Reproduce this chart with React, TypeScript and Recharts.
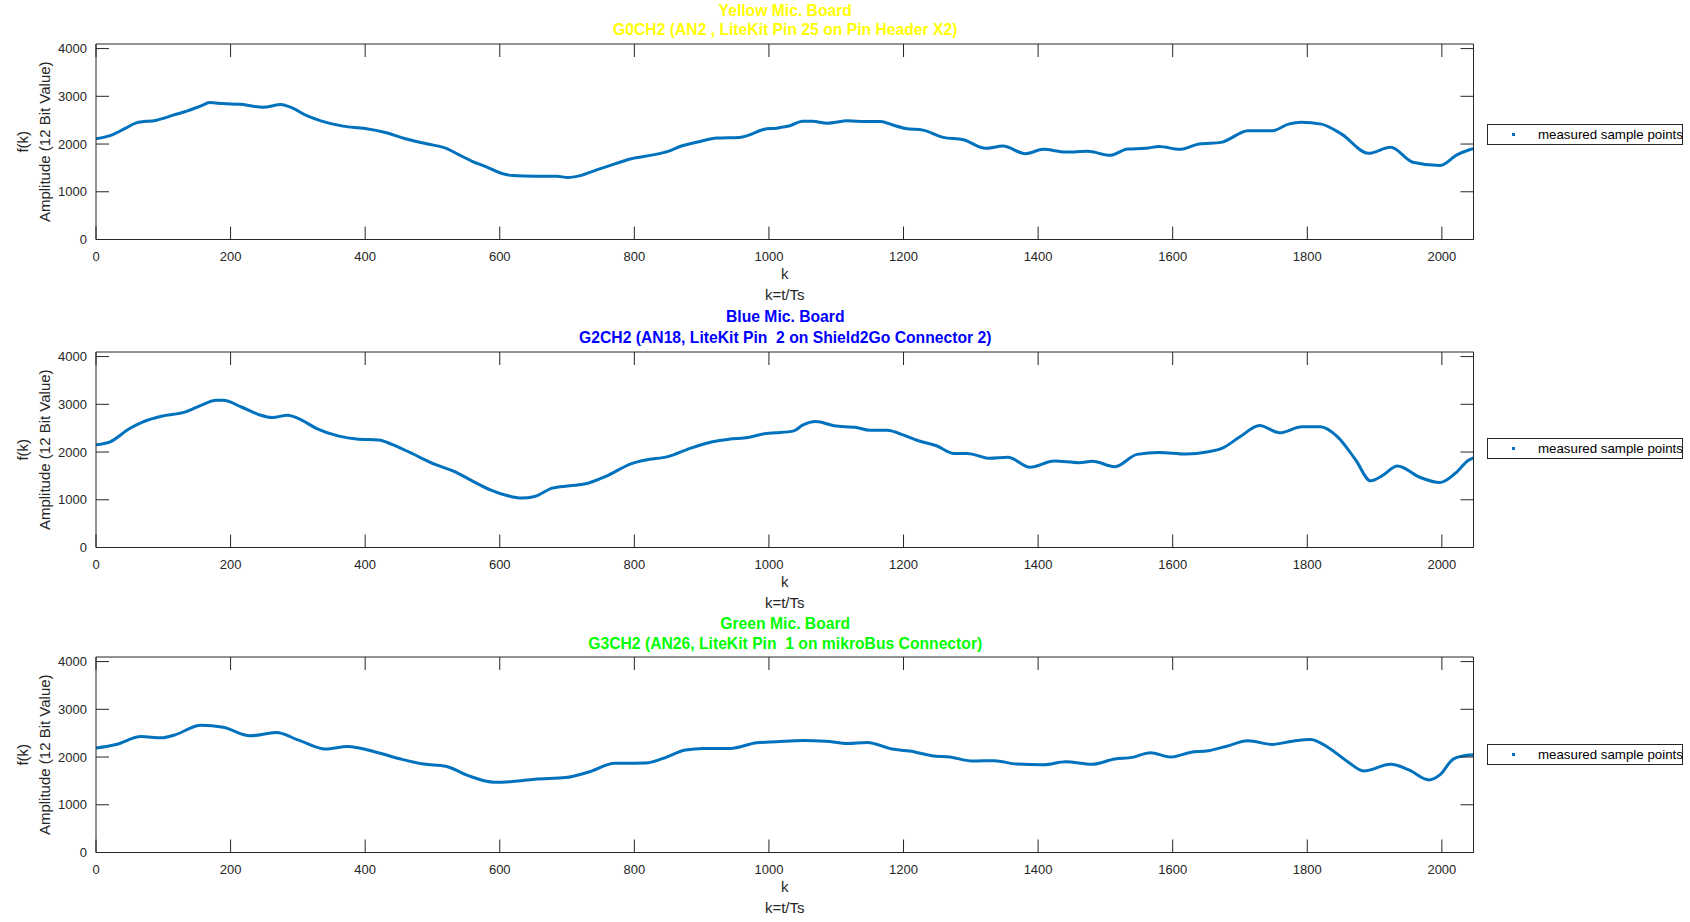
import React from "react"
import { LineChart, Line, XAxis, YAxis, Legend } from "recharts"

// sample points (k = t/Ts, 12 bit ADC value)
const yellowK = [0, 24, 44, 60, 90, 116, 136, 156, 169, 189, 215, 248, 275, 288, 315, 334, 367, 400, 430, 460, 493, 523, 539, 559, 579, 602, 619, 652, 685, 701, 718, 744, 771, 794, 830, 850, 870, 896, 923, 956, 969, 992, 1011, 1031, 1050, 1064, 1087, 1117, 1143, 1166, 1183, 1203, 1229, 1259, 1289, 1322, 1348, 1381, 1408, 1441, 1474, 1507, 1533, 1560, 1580, 1610, 1639, 1672, 1712, 1748, 1772, 1791, 1821, 1851, 1891, 1924, 1957, 1997, 2023, 2040, 2047]
const yellowV = [2111, 2194, 2333, 2444, 2500, 2611, 2694, 2799, 2868, 2847, 2833, 2771, 2826, 2778, 2583, 2486, 2375, 2326, 2243, 2111, 2000, 1896, 1778, 1639, 1528, 1389, 1340, 1326, 1326, 1299, 1333, 1458, 1583, 1688, 1778, 1847, 1958, 2049, 2125, 2139, 2181, 2306, 2333, 2382, 2479, 2479, 2438, 2486, 2472, 2472, 2403, 2326, 2292, 2139, 2090, 1910, 1958, 1799, 1889, 1833, 1847, 1764, 1896, 1910, 1951, 1889, 2000, 2035, 2278, 2278, 2417, 2458, 2417, 2208, 1806, 1931, 1618, 1549, 1778, 1875, 1905]

const blueK = [0, 21, 50, 70, 97, 133, 156, 179, 189, 216, 242, 262, 285, 301, 328, 361, 387, 420, 440, 467, 506, 533, 559, 586, 612, 632, 652, 678, 704, 731, 757, 797, 817, 850, 883, 916, 942, 969, 996, 1011, 1037, 1050, 1070, 1097, 1130, 1150, 1176, 1196, 1222, 1249, 1275, 1295, 1328, 1355, 1388, 1424, 1461, 1481, 1514, 1547, 1580, 1620, 1653, 1673, 1700, 1729, 1759, 1792, 1819, 1845, 1872, 1894, 1911, 1934, 1967, 1997, 2020, 2040, 2047]
const blueV = [2153, 2215, 2493, 2632, 2750, 2840, 2979, 3083, 3083, 2944, 2785, 2722, 2771, 2701, 2493, 2333, 2271, 2250, 2160, 1986, 1729, 1590, 1396, 1208, 1083, 1035, 1069, 1243, 1292, 1347, 1486, 1764, 1833, 1903, 2076, 2215, 2271, 2306, 2389, 2403, 2444, 2563, 2639, 2549, 2514, 2458, 2458, 2375, 2236, 2132, 1972, 1972, 1868, 1889, 1681, 1813, 1778, 1806, 1694, 1951, 1993, 1958, 2007, 2076, 2319, 2556, 2403, 2528, 2528, 2319, 1833, 1396, 1500, 1708, 1472, 1361, 1556, 1833, 1880]

const greenK = [0, 30, 67, 97, 116, 156, 189, 229, 268, 301, 341, 374, 414, 453, 487, 520, 553, 592, 619, 652, 698, 731, 771, 817, 843, 876, 903, 943, 982, 1011, 1050, 1084, 1117, 1146, 1183, 1209, 1242, 1269, 1302, 1335, 1368, 1408, 1441, 1480, 1514, 1540, 1567, 1597, 1626, 1653, 1679, 1712, 1748, 1778, 1805, 1831, 1858, 1884, 1924, 1951, 1981, 1997, 2017, 2040, 2047]
const greenV = [2188, 2264, 2431, 2403, 2458, 2667, 2625, 2444, 2514, 2354, 2167, 2222, 2111, 1958, 1854, 1806, 1611, 1472, 1486, 1535, 1569, 1681, 1868, 1875, 1972, 2146, 2181, 2181, 2299, 2319, 2347, 2333, 2285, 2306, 2167, 2125, 2028, 2000, 1917, 1924, 1854, 1840, 1903, 1847, 1958, 1993, 2090, 2000, 2097, 2132, 2222, 2340, 2264, 2333, 2368, 2201, 1924, 1708, 1847, 1729, 1521, 1625, 1958, 2042, 2050]

const X_TICKS = [0, 200, 400, 600, 800, 1000, 1200, 1400, 1600, 1800, 2000]
const Y_TICKS = [0, 1000, 2000, 3000, 4000]

const TITLES = [
  ["Yellow Mic. Board", "G0CH2 (AN2 , LiteKit Pin 25 on Pin Header X2)"],
  ["Blue Mic. Board", "G2CH2 (AN18, LiteKit Pin  2 on Shield2Go Connector 2)"],
  ["Green Mic. Board", "G3CH2 (AN26, LiteKit Pin  1 on mikroBus Connector)"],
]
const TITLE_COLORS = ["#FFFF00", "#0000FF", "#00FF00"]

const FONT = "'Liberation Sans', Arial, Helvetica, sans-serif"
const INK = "#262626"
const LINE = "#0072BD"
const TL = 13

const W = 1690
const H = 310
const M = { top: 43, right: 215.5, left: 0, bottom: 40.5 }

const LeftTick = (p: any) => (
  <g>
    <line x1={p.x + 9} x2={p.x + 9 + TL} y1={p.y} y2={p.y} stroke={INK} />
    <text x={p.x} y={p.y} dy={4.5} textAnchor="end" fontSize={13} fill={INK} fontFamily={FONT}>
      {p.payload.value}
    </text>
  </g>
)
const BottomTick = (p: any) => (
  <g>
    <line x1={p.x} x2={p.x} y1={p.y - 12} y2={p.y - 12 - TL} stroke={INK} />
    <text x={p.x} y={p.y} dy={9} textAnchor="middle" fontSize={13} fill={INK} fontFamily={FONT}>
      {p.payload.value}
    </text>
  </g>
)
const TopTick = (p: any) => <line x1={p.x} x2={p.x} y1={p.y} y2={p.y + TL} stroke={INK} />
const RightTick = (p: any) => <line x1={p.x} x2={p.x - TL} y1={p.y} y2={p.y} stroke={INK} />

const XLabel = (p: any) => {
  const vb = p.viewBox
  const cx = vb.x + vb.width / 2
  return (
    <g fontFamily={FONT} fontSize={15} fill={INK}>
      <text x={cx} y={vb.y + 39} textAnchor="middle">k</text>
      <text x={cx} y={vb.y + 60} textAnchor="middle">k=t/Ts</text>
    </g>
  )
}
const YLabel = (p: any) => {
  const vb = p.viewBox
  const cy = vb.y + vb.height / 2
  return (
    <g fontFamily={FONT} fontSize={15} fill={INK}>
      <text x={22} y={cy} transform={`rotate(-90, 22, ${cy})`} textAnchor="middle" dominantBaseline="central">f(k)</text>
      <text x={44} y={cy} transform={`rotate(-90, 44, ${cy})`} textAnchor="middle" dominantBaseline="central">Amplitude (12 Bit Value)</text>
    </g>
  )
}

const LegendBox = () => (
  <div
    style={{
      width: 194,
      height: 19,
      border: `1px solid ${INK}`,
      background: "#fff",
      position: "relative",
      fontFamily: FONT,
      fontSize: 13.3,
      color: "#000",
      whiteSpace: "nowrap",
    }}
  >
    <span style={{ position: "absolute", left: 24, top: 8, width: 3, height: 3, background: LINE }} />
    <span style={{ position: "absolute", left: 50, top: 1, lineHeight: "17px" }}>measured sample points</span>
  </div>
)

function Panel({ ks, vs, top, legendTop }: { ks: number[]; vs: number[]; top: number; legendTop: number }) {
  const data = ks.map((k, i) => ({ k, v: vs[i] }))
  return (
    <div style={{ position: "absolute", left: 0, top }}>
      <LineChart width={W} height={H} data={data} margin={M}>
        <XAxis
          xAxisId="b"
          dataKey="k"
          type="number"
          domain={[0, 2047]}
          allowDataOverflow
          ticks={X_TICKS}
          interval={0}
          height={30}
          tickSize={0}
          tickMargin={12}
          tick={BottomTick}
          axisLine={{ stroke: INK }}
          tickLine={false}
          label={XLabel}
        />
        <XAxis
          xAxisId="t"
          orientation="top"
          dataKey="k"
          type="number"
          domain={[0, 2047]}
          allowDataOverflow
          ticks={X_TICKS}
          interval={0}
          height={1}
          tickSize={0}
          tickMargin={0}
          tick={TopTick}
          axisLine={{ stroke: INK }}
          tickLine={false}
        />
        <YAxis
          yAxisId="l"
          type="number"
          domain={[0, 4096]}
          allowDataOverflow
          ticks={Y_TICKS}
          interval={0}
          width={96}
          tickSize={0}
          tickMargin={9}
          tick={LeftTick}
          axisLine={{ stroke: INK }}
          tickLine={false}
          label={YLabel}
        />
        <YAxis
          yAxisId="r"
          orientation="right"
          type="number"
          domain={[0, 4096]}
          allowDataOverflow
          ticks={Y_TICKS}
          interval={0}
          width={1}
          tickSize={0}
          tickMargin={0}
          tick={RightTick}
          axisLine={{ stroke: INK }}
          tickLine={false}
        />
        <Legend
          layout="vertical"
          align="center"
          verticalAlign="middle"
          content={LegendBox}
          wrapperStyle={{ position: "absolute", left: 1487, top: legendTop - top, width: 196, height: 21 }}
        />
        {/* invisible twin so the top/right box axes get a domain */}
        <Line
          xAxisId="t"
          yAxisId="r"
          dataKey="v"
          stroke="none"
          strokeOpacity={0}
          dot={false}
          activeDot={false}
          legendType="none"
          isAnimationActive={false}
        />
        <Line
          xAxisId="b"
          yAxisId="l"
          dataKey="v"
          type="monotone"
          stroke={LINE}
          strokeWidth={3}
          dot={false}
          isAnimationActive={false}
        />
      </LineChart>
    </div>
  )
}

const TITLE_Y = [
  [10.7, 30],
  [316.7, 338],
  [624, 644],
]

export default function App() {
  return (
    <div style={{ position: "absolute", left: 0, top: 0, width: W, height: 922, background: "#fff", overflow: "hidden" }}>
      {TITLES.map((t, i) => (
        <React.Fragment key={i}>
          {t.map((line, j) => (
            <div
              key={j}
              style={{
                position: "absolute",
                left: 96,
                width: 1378.5,
                top: TITLE_Y[i][j] - 10,
                height: 20,
                lineHeight: "20px",
                textAlign: "center",
                fontFamily: FONT,
                fontWeight: "bold",
                fontSize: 15.7,
                color: TITLE_COLORS[i],
                whiteSpace: "pre",
              }}
            >
              {line}
            </div>
          ))}
        </React.Fragment>
      ))}
      <Panel ks={yellowK} vs={yellowV} top={0} legendTop={124} />
      <Panel ks={blueK} vs={blueV} top={307.7} legendTop={438} />
      <Panel ks={greenK} vs={greenV} top={613.3} legendTop={744} />
    </div>
  )
}
